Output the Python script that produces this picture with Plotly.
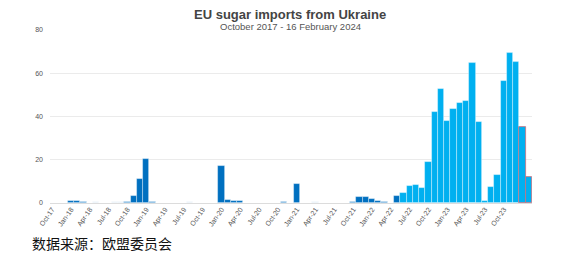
import plotly.graph_objects as go

# Data (thousand tonnes), monthly Oct-17 .. Feb-24
months = []
mnames = ["Jan", "Feb", "Mar", "Apr", "May", "Jun", "Jul", "Aug", "Sep", "Oct", "Nov", "Dec"]
y, m = 2017, 9
while (y, m) <= (2024, 1):
    months.append(f"{mnames[m]}-{str(y)[2:]}")
    m += 1
    if m == 12:
        m, y = 0, y + 1

imports = [
    0, 0, 0, 0.7, 1.1, 0.6, 0, 0.6, 0, 0, 0.6, 0.6,          # Oct-17..Sep-18
    0.5, 3.1, 11.1, 20.3, 0.5, 0, 0, 0, 0, 0, 0.6, 0,        # Oct-18..Sep-19
    0, 0, 0, 16.9, 1.5, 0.9, 1.0, 0, 0, 0, 0, 0,             # Oct-19..Sep-20
    0, 0.5, 0, 8.9, 0, 0, 0.6, 0, 0, 0, 0, 0,                # Oct-20..Sep-21
    0.6, 2.8, 2.8, 1.8, 1.1, 0.6, 0, 3.3, 4.5, 7.9, 8.3, 6.8,  # Oct-21..Sep-22
    19.1, 42.2, 52.5, 37.7, 43.5, 46.2, 47.1, 64.9, 37.6, 0.9, 7.5, 12.9,  # Oct-22..Sep-23
    56.4, 69.2, 65.0, 35.0, 11.9,                             # Oct-23..Feb-24
]
# months with negligible volumes shown in pale colour
pale_months = ["May-18", "Aug-18", "Sep-18", "Aug-19", "Apr-21"]
# first month of the liberalised-trade (light blue) period
light_start = "Jun-22"
# partial-data months (outlined)
partial_months = ["Jan-24", "Feb-24"]

tick_labels = ["Oct-17", "Jan-18", "Apr-18", "Jul-18", "Oct-18", "Jan-19", "Apr-19",
               "Jul-19", "Oct-19", "Jan-20", "Apr-20", "Jul-20", "Oct-20", "Jan-21",
               "Apr-21", "Jul-21", "Oct-21", "Jan-22", "Apr-22", "Jul-22", "Oct-22",
               "Jan-23", "Apr-23", "Jul-23", "Oct-23"]

DARK = "#0070c0"
LIGHT = "#00b0f0"
PALE = "#d9e7f4"
ls = months.index(light_start)
colors, lines = [], []
for i, mo in enumerate(months):
    if mo in pale_months:
        colors.append(PALE)
    elif i >= ls:
        colors.append(LIGHT)
    else:
        colors.append(DARK)
    lines.append("#c9707e" if mo in partial_months else "rgba(255,255,255,0.45)")

fig = go.Figure(go.Bar(
    x=months, y=imports,
    marker=dict(color=colors, line=dict(color=lines, width=0.8)),
    hoverinfo="x+y",
))

L, R, T, B = 50, 31, 30, 58
W, H = 563, 261
pw, ph = W - L - R, H - T - B

fig.update_layout(
    width=W, height=H,
    margin=dict(l=L, r=R, t=T, b=B),
    paper_bgcolor="white", plot_bgcolor="white",
    bargap=0, showlegend=False,
    font=dict(family="Liberation Sans, Arial, sans-serif", color="#555"),
    xaxis=dict(
        type="category", categoryorder="array", categoryarray=months,
        range=[-0.35, len(months) - 0.5],
        tickmode="array", tickvals=tick_labels, ticktext=tick_labels,
        tickangle=-55, tickfont=dict(size=7, color="#555"),
        showgrid=False, showline=False, ticks="", zeroline=False,
    ),
    yaxis=dict(
        range=[0, 80], tickvals=[0, 20, 40, 60, 80],
        tickfont=dict(size=7, color="#555"),
        showgrid=True, gridcolor="#ebebeb", gridwidth=1,
        zeroline=True, zerolinecolor="#dcdcdc", zerolinewidth=1,
        showline=False, ticks="", ticklabelstandoff=6,
    ),
    annotations=[
        dict(text="<b>EU sugar imports from Ukraine</b>", xref="paper", yref="paper",
             x=(290 - L) / pw, y=(H - B - 14) / ph, xanchor="center", yanchor="middle",
             showarrow=False, font=dict(size=13, color="#444",
                                        family="Liberation Sans, Arial, sans-serif")),
        dict(text="October 2017 - 16 February 2024", xref="paper", yref="paper",
             x=(290 - L) / pw, y=(H - B - 26) / ph, xanchor="center", yanchor="middle",
             showarrow=False, font=dict(size=9.5, color="#555",
                                        family="Liberation Sans, Arial, sans-serif")),
        dict(text="数据来源：欧盟委员会", xref="paper", yref="paper",
             x=(30 - L) / pw, y=(H - B - 243) / ph, xanchor="left", yanchor="middle",
             showarrow=False, font=dict(size=14, color="#111",
                                        family="Noto Sans CJK SC, sans-serif")),
    ],
)

fig.write_html("out.html")
